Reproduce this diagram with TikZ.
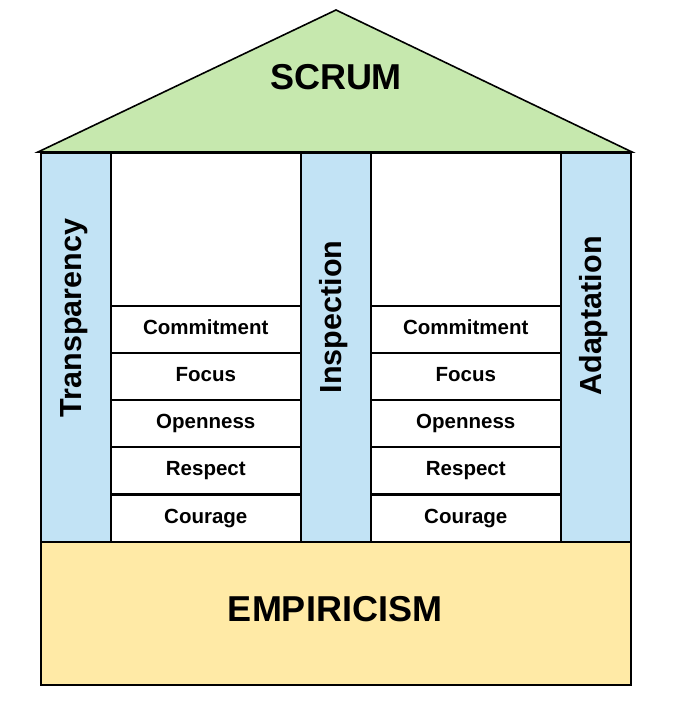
\documentclass[tikz,border=0pt]{standalone}
\usepackage{fontspec}
\setmainfont{Liberation Sans}
\definecolor{roofgreen}{HTML}{C6E8AE}
\definecolor{pillarblue}{HTML}{C2E3F5}
\definecolor{baseyellow}{HTML}{FFEAA6}
\tikzset{
  pillar/.style={draw=black, fill=pillarblue, inner sep=0pt, minimum width=70pt, minimum height=389pt, anchor=north west},
  cell/.style={draw=black, fill=white, inner sep=0pt, minimum width=190pt, minimum height=47pt, anchor=north west, text height=15pt, text depth=5pt, font=\bfseries\fontsize{20.5}{24}\selectfont},
  blank/.style={draw=black, fill=white, inner sep=0pt, minimum width=190pt, minimum height=153pt, anchor=north west},
  pillartext/.style={rotate=90, font=\bfseries\fontsize{30.5}{36}\selectfont},
  bigtext/.style={font=\bfseries\fontsize{36}{42}\selectfont}
}
\begin{document}
\begin{tikzpicture}[x=1pt,y=-1pt,line width=1.6pt]
\useasboundingbox (0,0) rectangle (673,708);
% pillars
\node[pillar] (tp) at (40,152) {};
\node[pillar] (ip) at (300,152) {};
\node[pillar] (ap) at (560,152) {};
\node[pillartext] (tpl) at (74,318) {Transparency};
\node[pillartext] (ipl) at (334,317) {Inspection};
\node[pillartext] (apl) at (594,316) {Adaptation};
% left panel
\node[blank] (lb) at (110,152) {};
\node[cell] (l1) at (110,305) {Commitment};
\node[cell] (l2) at (110,352) {Focus};
\node[cell] (l3) at (110,399) {Openness};
\node[cell] (l4) at (110,446) {Respect};
\node[cell] (l5) at (110,494) {Courage};
% right panel
\node[blank] (rb) at (370,152) {};
\node[cell] (r1) at (370,305) {Commitment};
\node[cell] (r2) at (370,352) {Focus};
\node[cell] (r3) at (370,399) {Openness};
\node[cell] (r4) at (370,446) {Respect};
\node[cell] (r5) at (370,494) {Courage};
% roof
\coordinate (apex) at (336,10);
\coordinate (rl) at (38,152);
\coordinate (rr) at (632,152);
\draw[fill=roofgreen, line join=miter] (apex) -- (rr) -- (rl) -- cycle;
\node[bigtext] (scrum) at (336,77) {SCRUM};
% base
\node[draw=black, fill=baseyellow, inner sep=0pt, minimum width=590pt, minimum height=143pt, anchor=north west] (base) at (40,541) {};
\node[bigtext] (emp) at (335,609) {EMPIRICISM};
\end{tikzpicture}
\end{document}
